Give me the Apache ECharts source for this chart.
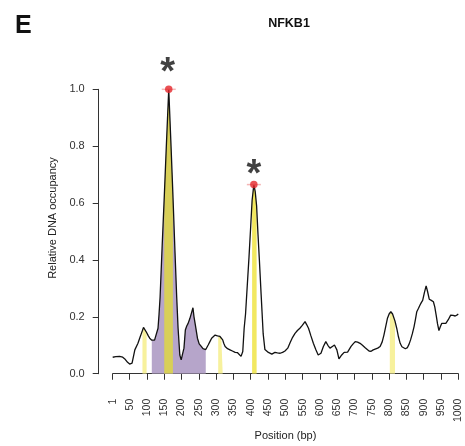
<!DOCTYPE html>
<html>
<head>
<meta charset="utf-8">
<script src="https://cdn.jsdelivr.net/npm/echarts@6/dist/echarts.min.js"></script>
<style>
html,body{margin:0;padding:0;background:#fff;}
#c{width:465px;height:446px;}
</style>
</head>
<body>
<div id="c"></div>
<script>
// ---- data ----
const panelLabel = 'E';
const chartTitle = 'NFKB1';
const xName = 'Position (bp)';
const yName = 'Relative DNA occupancy';

const positions = [1,10,21,30,36,44,50,57,65,74,80,84,87,90,94,99,104,108,114,117,122,127,132,135,138,144,150,156,163,169,175,181,186,190,195,199,203,207,211,215,219,224,229,233,236,240,246,251,257,262,267,270,277,282,287,292,297,304,306,311,315,319,322,326,333,340,347,355,362,367,372,377,381,385,390,395,400,404,409,413,417,421,425,430,436,441,446,451,456,461,466,470,477,485,492,499,507,514,521,528,535,542,549,557,562,567,574,581,588,595,603,610,617,623,629,636,642,649,655,663,670,680,690,696,702,709,716,723,730,736,742,748,754,759,767,774,780,785,790,795,800,802,805,810,812,817,822,827,832,837,841,847,853,858,862,867,872,876,880,885,889,893,897,902,907,911,916,922,928,932,936,940,944,948,952,958,964,971,978,985,991,997,1000];
const occupancy = [0.058,0.060,0.061,0.058,0.052,0.040,0.034,0.037,0.084,0.107,0.128,0.142,0.152,0.163,0.157,0.145,0.133,0.125,0.118,0.115,0.118,0.125,0.160,0.210,0.270,0.450,0.620,0.800,1.000,0.820,0.630,0.430,0.270,0.160,0.066,0.049,0.070,0.090,0.154,0.168,0.177,0.194,0.215,0.232,0.200,0.171,0.125,0.105,0.096,0.088,0.084,0.085,0.101,0.113,0.125,0.132,0.136,0.133,0.132,0.131,0.126,0.119,0.107,0.096,0.088,0.084,0.080,0.075,0.074,0.075,0.061,0.078,0.160,0.210,0.310,0.410,0.520,0.610,0.665,0.640,0.590,0.490,0.400,0.280,0.140,0.085,0.078,0.075,0.072,0.069,0.072,0.075,0.073,0.072,0.075,0.080,0.090,0.110,0.128,0.142,0.152,0.160,0.170,0.183,0.172,0.160,0.133,0.107,0.085,0.066,0.072,0.096,0.113,0.100,0.090,0.096,0.101,0.084,0.052,0.066,0.075,0.076,0.096,0.105,0.113,0.111,0.107,0.100,0.092,0.086,0.080,0.079,0.084,0.084,0.090,0.096,0.112,0.136,0.165,0.194,0.210,0.214,0.218,0.210,0.206,0.185,0.160,0.130,0.107,0.095,0.090,0.088,0.092,0.105,0.119,0.140,0.165,0.190,0.218,0.230,0.241,0.250,0.258,0.285,0.309,0.290,0.262,0.258,0.253,0.235,0.206,0.175,0.152,0.165,0.177,0.177,0.177,0.190,0.206,0.205,0.203,0.207,0.210];

// highlighted regions (bp)
const regionStart = [114, 87, 150, 306, 404, 802];
const regionEnd   = [270, 99, 175, 319, 417, 817];

// significant peaks
const peakPos = [163, 409];
const peakVal = [1.0, 0.665];

const xTicks = [1,50,100,150,200,250,300,350,400,450,500,550,600,650,700,750,800,850,900,950,1000];
const yTicks = [0,0.2,0.4,0.6,0.8,1.0];

// ---- styles ----
const regionColors = ['#b6a5ca', '#f7f19d', '#d8cf58', '#f7f19d', '#f2e860', '#f7f19d'];
const starOffsets = [[-1, 7], [0, 14]];
const FONT = 'Liberation Sans, Arial, Helvetica, sans-serif';

const curve = positions.map((p, i) => [p, occupancy[i]]);

const regionSeries = regionStart.map((s, k) => {
  const e = regionEnd[k];
  return {
    type: 'line',
    data: curve.filter(d => d[0] >= s && d[0] <= e),
    showSymbol: false,
    symbol: 'none',
    lineStyle: { width: 0, opacity: 0 },
    areaStyle: { color: regionColors[k], opacity: 1 },
    z: 1 + k,
    silent: true,
    animation: false
  };
});

const chart = echarts.init(document.getElementById('c'), null, { renderer: 'canvas' });
chart.setOption({
  animation: false,
  backgroundColor: '#ffffff',
  title: [
    { text: panelLabel, left: 10, top: 9, textStyle: { fontFamily: FONT, fontWeight: 'bold', fontSize: 25, color: '#111' } },
    { text: chartTitle, left: 284, top: 12, textAlign: 'center', textStyle: { fontFamily: FONT, fontWeight: 'bold', fontSize: 12.5, color: '#111' } }
  ],
  grid: { left: 112.7, right: 6.7, top: 89.3, bottom: 70.3, containLabel: false },
  xAxis: {
    type: 'value', min: 1, max: 1000, offset: 13,
    name: xName, nameLocation: 'middle', nameGap: 41,
    nameTextStyle: { fontFamily: FONT, fontSize: 11, color: '#222' },
    axisLine: { show: true, lineStyle: { color: '#333', width: 1 } },
    axisTick: { show: true, length: 6, customValues: xTicks, lineStyle: { color: '#333' } },
    axisLabel: { customValues: xTicks, rotate: 90, margin: 12, fontFamily: FONT, fontSize: 10.5, color: '#333', formatter: v => String(v) },
    splitLine: { show: false }
  },
  yAxis: {
    type: 'value', min: 0, max: 1, interval: 0.2, offset: 14,
    axisLine: { show: true, lineStyle: { color: '#333', width: 1 } },
    axisTick: { show: true, length: 6, lineStyle: { color: '#333' } },
    axisLabel: { margin: 14, fontFamily: FONT, fontSize: 11, color: '#333', formatter: v => v.toFixed(1) },
    splitLine: { show: false }
  },
  graphic: [
    { type: 'text', x: 53, y: 218, rotation: Math.PI / 2,
      style: { text: yName, fontFamily: FONT, fontSize: 11, fill: '#222', align: 'center', verticalAlign: 'middle' } }
  ],
  series: [
    ...regionSeries,
    {
      type: 'line', data: curve, showSymbol: false, symbol: 'none', clip: false,
      lineStyle: { color: '#111', width: 1.3 }, z: 10, animation: false
    },
    {
      type: 'scatter', data: peakPos.map((p, i) => [p, peakVal[i]]), clip: false,
      symbol: 'rect', symbolSize: [14, 1.5], itemStyle: { color: '#f3a3a3' }, z: 11
    },
    {
      type: 'scatter', clip: false,
      data: peakPos.map((p, i) => ({ value: [p, peakVal[i]], label: { offset: starOffsets[i] } })),
      symbol: 'circle', symbolSize: 7.5, itemStyle: { color: '#e3252b' }, z: 12,
      label: {
        show: true, position: 'top', formatter: '*', distance: 0,
        fontFamily: FONT, fontWeight: 'bold', fontSize: 38, color: '#111'
      }
    }
  ]
});
</script>
</body>
</html>
